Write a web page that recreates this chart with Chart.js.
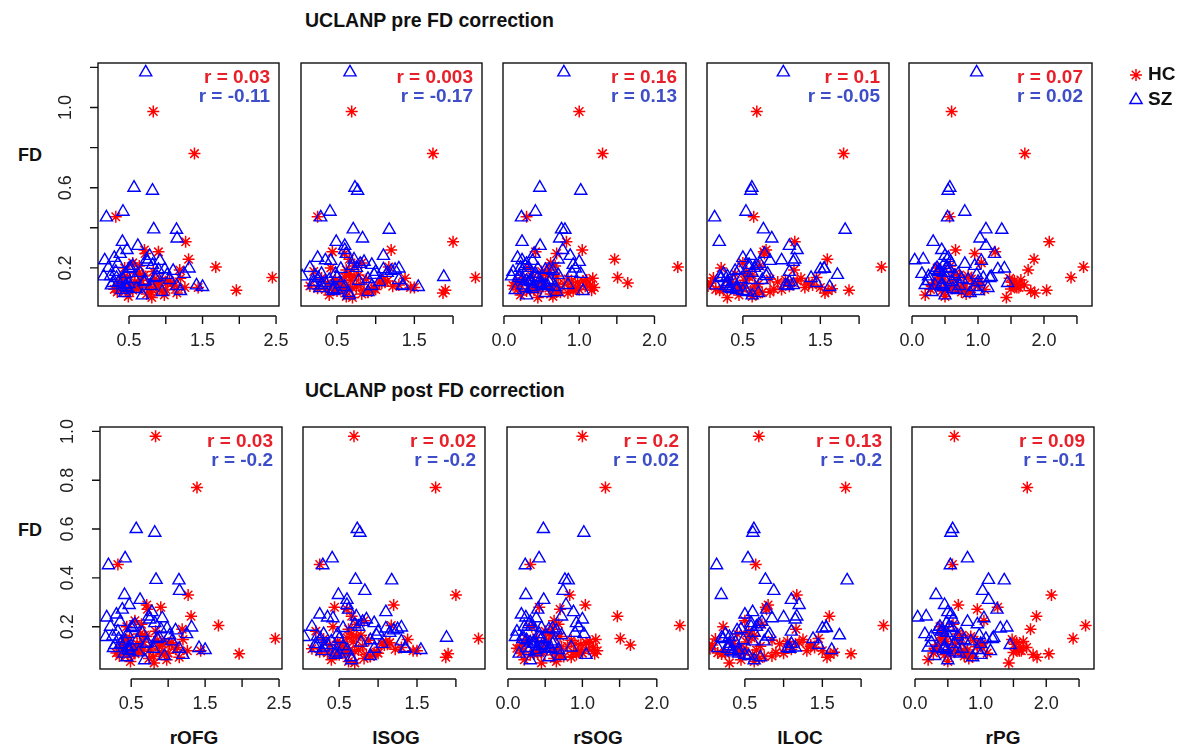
<!DOCTYPE html>
<html>
<head>
<meta charset="utf-8">
<script src="https://cdn.jsdelivr.net/npm/chart.js@4.4.1/dist/chart.umd.min.js"></script>
<style>
body { margin: 0; background: #fff; }
#wrap { position: relative; width: 1182px; height: 747px; overflow: hidden; }
#wrap canvas { position: absolute; }
.lbl { position: absolute; font-family: "Liberation Sans", Arial, sans-serif; font-weight: bold; color: #111; white-space: nowrap; line-height: 1; }
.xl { transform: translateX(-50%); font-size: 19px; top: 728px; }
</style>
</head>
<body>
<div id="wrap">
  <div class="lbl" style="left:305px;top:11px;font-size:19.5px">UCLANP pre FD correction</div>
  <div class="lbl" style="left:305px;top:381px;font-size:19.5px">UCLANP post FD correction</div>
  <div class="lbl" style="left:18px;top:146px;font-size:18px">FD</div>
  <div class="lbl" style="left:18px;top:521px;font-size:18px">FD</div>
  <div class="lbl xl" style="left:194px">rOFG</div>
  <div class="lbl xl" style="left:396px">lSOG</div>
  <div class="lbl xl" style="left:598px">rSOG</div>
  <div class="lbl xl" style="left:800px">lLOC</div>
  <div class="lbl xl" style="left:1003px">rPG</div>
</div>
<script>
const regions = ['rOFG', 'lSOG', 'rSOG', 'lLOC', 'rPG'];

// framewise displacement per subject (same subjects in every panel)
const fdHC = [0.98, 0.77, 0.455, 0.33, 0.289, 0.28, 0.243, 0.205, 0.152, 0.089,
  0.19, 0.102, 0.102, 0.075, 0.052, 0.058, 0.08, 0.125, 0.272, 0.225,
  0.11, 0.15, 0.088, 0.13, 0.1, 0.16, 0.12, 0.095, 0.14, 0.085,
  0.125, 0.09, 0.17, 0.105, 0.145, 0.092, 0.135, 0.115, 0.098, 0.155,
  0.093, 0.14, 0.1, 0.165, 0.078, 0.13, 0.108, 0.148, 0.086, 0.118,
  0.2, 0.104, 0.138, 0.07, 0.128, 0.112, 0.21, 0.096, 0.182, 0.065];
const fdSZ = [1.175, 0.6, 0.585, 0.48, 0.452, 0.392, 0.39, 0.347, 0.33, 0.289,
  0.238, 0.193, 0.197, 0.113, 0.105, 0.158, 0.113, 0.105, 0.063, 0.242,
  0.17, 0.25, 0.12, 0.2, 0.095, 0.22, 0.14, 0.11, 0.19, 0.16,
  0.21, 0.13, 0.185, 0.08, 0.15, 0.175, 0.1, 0.27, 0.125, 0.23,
  0.09, 0.2, 0.155, 0.14, 0.31, 0.18, 0.085, 0.165, 0.26, 0.115,
  0.13, 0.145, 0.075, 0.235, 0.11, 0.195, 0.135, 0.215, 0.15, 0.17];
// post correction: the SZ outlier is gone, the rest unchanged
const fdHCpost = fdHC;
const fdSZpost = [null, 0.6, 0.585, 0.48, 0.452, 0.392, 0.39, 0.347, 0.33, 0.289,
  0.238, 0.193, 0.197, 0.113, 0.105, 0.158, 0.113, 0.105, 0.063, 0.242,
  0.17, 0.25, 0.12, 0.2, 0.095, 0.22, 0.14, 0.11, 0.19, 0.16,
  0.21, 0.13, 0.185, 0.08, 0.15, 0.175, 0.1, 0.27, 0.125, 0.23,
  0.09, 0.2, 0.155, 0.14, 0.31, 0.18, 0.085, 0.165, 0.26, 0.115,
  0.13, 0.145, 0.075, 0.235, 0.11, 0.195, 0.135, 0.215, 0.15, 0.17];

const rOFG_HC = [0.83, 1.39, 0.32, 1.27, 0.71, 0.90, 1.31, 1.68, 2.45, 1.96,
  1.19, 1.26, 1.44, 1.15, 0.81, 0.49, 0.34, 0.62, 0.72, 0.55,
  0.35, 0.42, 0.5, 0.58, 0.65, 0.7, 0.78, 0.88, 0.95, 0.45,
  0.38, 0.55, 0.62, 0.75, 0.85, 1.0, 1.05, 1.12, 0.6, 0.48,
  0.3, 0.4, 0.52, 0.68, 0.8, 0.92, 1.1, 1.2, 0.95, 0.88,
  0.44, 0.58, 0.66, 0.74, 1.02, 0.57, 0.64, 0.5, 0.83, 0.98];
const lSOG_HC = [0.69, 1.74, 0.25, 2.0, 1.2, 0.44, 0.66, 1.17, 2.29, 1.9,
  0.62, 1.45, 1.5, 1.87, 0.7, 0.62, 0.9, 1.08, 0.6, 0.82,
  0.15, 0.3, 0.45, 0.55, 0.62, 0.72, 0.8, 0.95, 1.1, 0.5,
  0.38, 0.58, 0.66, 0.75, 0.88, 1.0, 1.15, 1.3, 0.25, 0.6,
  0.35, 0.48, 0.7, 0.78, 0.9, 1.05, 1.22, 1.38, 0.85, 0.52,
  0.42, 0.63, 0.68, 0.82, 1.12, 0.55, 0.72, 0.98, 0.2, 0.4];
const rSOG_HC = [1.0, 1.31, 0.3, 0.83, 1.04, 0.42, 1.47, 2.31, 1.51, 1.165,
  0.6, 1.2, 0.95, 0.85, 0.45, 0.65, 0.7, 1.645, 0.7, 0.62,
  0.15, 0.25, 0.35, 0.5, 0.6, 0.7, 0.8, 0.95, 1.1, 0.3,
  0.2, 0.4, 0.55, 0.65, 0.85, 1.0, 1.05, 1.15, 0.45, 0.38,
  0.18, 0.28, 0.48, 0.58, 0.75, 0.9, 1.08, 1.18, 0.92, 0.72,
  0.32, 0.42, 0.52, 0.62, 0.98, 0.12, 0.68, 0.88, 0.5, 0.22];
const lLOC_HC = [0.68, 1.8, 0.64, 1.17, 0.8, 0.77, 1.59, 2.29, 1.45, 1.87,
  1.16, 1.3, 1.5, 1.56, 0.3, 0.62, 0.85, 1.35, 0.78, 0.5,
  0.05, 0.12, 0.2, 0.35, 0.45, 0.55, 0.7, 0.9, 1.05, 0.6,
  0.08, 0.25, 0.4, 0.65, 0.85, 1.0, 1.2, 1.4, 0.5, 0.58,
  0.15, 0.3, 0.48, 0.62, 0.75, 0.95, 1.1, 1.25, 1.6, 1.35,
  0.22, 0.38, 0.52, 0.68, 1.08, 0.42, 0.72, 1.65, 0.55, 0.45];
const rPG_HC = [0.6, 1.71, 0.57, 2.08, 0.66, 1.26, 1.85, 2.6, 2.41, 2.04,
  1.76, 1.59, 1.62, 1.86, 1.43, 0.5, 0.75, 1.0, 0.95, 1.05,
  0.3, 0.4, 0.5, 0.6, 0.7, 0.85, 1.0, 1.5, 1.65, 0.45,
  0.35, 0.55, 0.65, 0.8, 0.9, 1.1, 1.55, 1.7, 0.75, 0.42,
  0.28, 0.48, 0.62, 0.72, 0.88, 1.02, 1.58, 1.48, 1.8, 0.95,
  0.38, 0.52, 0.68, 0.82, 1.52, 0.3, 0.58, 0.78, 0.45, 0.2];

const rOFG_SZ = [0.727, 0.568, 0.819, 0.418, 0.192, 0.836, 1.146, 1.154, 0.41, 0.473,
  0.169, 0.986, 1.317, 1.418, 1.5, 0.155, 0.26, 0.455, 0.683, 0.737,
  0.45, 0.3, 0.5, 0.22, 0.6, 0.35, 0.42, 0.8, 0.9, 0.25,
  0.55, 0.7, 1.1, 0.95, 0.85, 0.65, 0.48, 0.38, 0.28, 0.75,
  0.4, 0.52, 0.88, 1.05, 0.62, 0.32, 1.2, 1.02, 0.78, 0.46,
  0.36, 0.58, 0.44, 0.92, 1.15, 0.5, 0.72, 0.82, 0.33, 1.25];
const lSOG_SZ = [0.668, 0.732, 0.767, 0.41, 0.29, 0.71, 1.175, 0.83, 0.49, 0.6,
  0.35, 1.1, 1.3, 1.35, 1.55, 0.05, 0.2, 0.6, 0.66, 0.72,
  0.3, 0.25, 0.55, 0.15, 0.45, 0.8, 0.4, 0.95, 1.25, 0.22,
  0.7, 1.05, 1.2, 0.9, 0.5, 1.15, 0.28, 0.62, 0.35, 0.85,
  0.5, 0.75, 1.88, 1.3, 0.6, 1.0, 0.45, 0.98, 1.1, 0.3,
  0.2, 0.9, 0.65, 0.42, 1.35, 0.55, 0.78, 0.95, 0.26, 0.48];
const rSOG_SZ = [0.796, 0.476, 1.02, 0.418, 0.232, 0.765, 0.81, 0.74, 0.24, 0.78,
  0.24, 0.6, 0.95, 0.25, 0.38, 0.1, 0.55, 0.68, 0.3, 0.72,
  0.42, 0.18, 0.45, 0.22, 0.38, 0.3, 0.35, 0.5, 0.55, 0.2,
  0.28, 0.6, 0.65, 0.7, 0.45, 0.9, 0.28, 0.4, 0.5, 1.0,
  0.15, 0.32, 0.42, 0.62, 0.48, 0.12, 1.05, 0.72, 0.88, 0.85,
  0.35, 0.25, 0.55, 0.38, 0.58, 0.45, 0.3, 0.92, 0.2, 1.02];
const lLOC_SZ = [1.022, 0.616, 0.603, 0.54, 0.135, 0.765, 1.82, 0.873, 0.195, 1.2,
  1.0, 1.5, 1.55, 1.05, 1.62, 0.3, 0.15, 0.42, 0.62, 1.17,
  0.25, 0.5, 0.3, 0.58, 0.35, 0.72, 0.6, 0.28, 0.45, 0.8,
  0.68, 1.1, 0.4, 0.55, 1.38, 0.62, 0.32, 0.78, 1.45, 1.15,
  0.42, 0.65, 0.2, 0.75, 1.1, 1.1, 0.5, 1.72, 0.6, 1.15,
  0.3, 0.48, 0.7, 0.85, 1.08, 1.55, 0.38, 0.58, 0.22, 0.82];
const rPG_SZ = [0.979, 0.573, 0.547, 0.8, 0.538, 1.12, 1.36, 1.03, 0.32, 0.45,
  0.04, 1.3, 1.4, 0.45, 0.95, 0.25, 0.35, 0.48, 0.5, 0.17,
  0.15, 0.55, 0.45, 0.38, 0.62, 0.8, 0.5, 0.72, 0.35, 0.65,
  0.95, 1.0, 0.42, 0.3, 1.08, 0.48, 1.15, 1.25, 1.45, 0.58,
  0.68, 0.52, 1.2, 0.85, 1.12, 0.4, 1.0, 0.98, 0.5, 0.2,
  0.6, 0.75, 0.88, 1.05, 0.44, 0.56, 0.25, 0.48, 1.18, 0.7];

// correlation labels
const rPre_HC = ['0.03', '0.003', '0.16', '0.1', '0.07'];
const rPre_SZ = ['-0.11', '-0.17', '0.13', '-0.05', '0.02'];
const rPost_HC = ['0.03', '0.02', '0.2', '0.13', '0.09'];
const rPost_SZ = ['-0.2', '-0.2', '0.02', '-0.2', '-0.1'];

// tick labels
const xTickLabels = [['0.5', '1.5', '2.5'], ['0.5', '1.5'], ['0.0', '1.0', '2.0'], ['0.5', '1.5'], ['0.0', '1.0', '2.0']];
const yTickLabelsPre = ['0.2', '0.6', '1.0'];
const yTickLabelsPost = ['0.2', '0.4', '0.6', '0.8', '1.0'];

const xHC = [rOFG_HC, lSOG_HC, rSOG_HC, lLOC_HC, rPG_HC];
const xSZ = [rOFG_SZ, lSOG_SZ, rSOG_SZ, lLOC_SZ, rPG_SZ];

// axis ranges and box placement
const xMin = [0.078, 0.035, -0.013, 0.037, -0.046];
const xMax = [2.54, 2.374, 2.419, 2.386, 2.728];
const yRange = [[0.01, 1.222], [0.027, 1.018]];
const boxLeft = [[98, 301, 503, 707, 909], [100, 303, 507, 709, 912]];
const boxRight = [[279, 482, 686, 889, 1092], [282, 485, 688, 891, 1094]];
const boxTop = [63, 427];
const boxBottom = [306, 669];

const FONT = '"Liberation Sans", Arial, sans-serif';
const RED_TXT = '#e8202a';
const BLUE_TXT = '#3d4ec8';

function stepValues(scale, step) {
  // tick positions of an R style axis inside the scale range
  const out = [];
  for (let v = Math.ceil(scale.min / step - 1e-9) * step; v <= scale.max + 1e-9; v += step) out.push(+v.toFixed(2));
  return out;
}

function noPad(s) {
  s.paddingLeft = 0;
  s.paddingRight = 0;
  s.paddingTop = 0;
  s.paddingBottom = 0;
}

const rStyle = {
  id: 'rStyle',
  afterDraw(chart, args, opts) {
    const {ctx, chartArea: a, scales: {x, y}} = chart;
    ctx.save();
    ctx.strokeStyle = '#111';
    ctx.lineWidth = 1.4;
    ctx.strokeRect(a.left, a.top, a.right - a.left, a.bottom - a.top);

    // x axis detached below the box
    const xt = stepValues(x, 0.5);
    const ay = a.bottom + 10;
    ctx.beginPath();
    ctx.moveTo(x.getPixelForValue(xt[0]), ay);
    ctx.lineTo(x.getPixelForValue(xt[xt.length - 1]), ay);
    xt.forEach(v => {
      const px = x.getPixelForValue(v);
      ctx.moveTo(px, ay);
      ctx.lineTo(px, ay + 8);
    });
    if (opts.yAxis) {
      stepValues(y, 0.2).forEach(v => {
        const py = y.getPixelForValue(v);
        ctx.moveTo(a.left, py);
        ctx.lineTo(a.left - 8, py);
      });
    }
    ctx.stroke();

    ctx.font = 'bold 19px ' + FONT;
    ctx.textAlign = 'right';
    ctx.textBaseline = 'middle';
    ctx.fillStyle = RED_TXT;
    ctx.fillText('r = ' + opts.rHC, a.right - 9, a.top + 15);
    ctx.fillStyle = BLUE_TXT;
    ctx.fillText('r = ' + opts.rSZ, a.right - 9, a.top + 34);

    if (opts.legend) {
      const lx = a.right + 44, ly1 = a.top + 12, ly2 = a.top + 37;
      ctx.lineWidth = 1.5;
      ctx.strokeStyle = 'red';
      ctx.beginPath();
      for (let k = 0; k < 4; k++) {
        const ang = k * Math.PI / 4;
        ctx.moveTo(lx - Math.cos(ang) * 6, ly1 - Math.sin(ang) * 6);
        ctx.lineTo(lx + Math.cos(ang) * 6, ly1 + Math.sin(ang) * 6);
      }
      ctx.stroke();
      ctx.strokeStyle = 'blue';
      ctx.beginPath();
      ctx.moveTo(lx, ly2 - 7);
      ctx.lineTo(lx + 6.06, ly2 + 3.5);
      ctx.lineTo(lx - 6.06, ly2 + 3.5);
      ctx.closePath();
      ctx.stroke();
      ctx.fillStyle = '#111';
      ctx.textAlign = 'left';
      ctx.fillText('HC', lx + 12, ly1);
      ctx.fillText('SZ', lx + 12, ly2);
    }
    ctx.restore();
  }
};

function makePanel(row, col) {
  const wrap = document.getElementById('wrap');
  const L = boxLeft[row][col], R = boxRight[row][col];
  const T = boxTop[row], B = boxBottom[row];
  const padR = (row === 0 && col === 4) ? 100 : 10;
  const cv = document.createElement('canvas');
  cv.width = R - L + 50 + padR;
  cv.height = B - T + 55;
  cv.style.left = (L - 50) + 'px';
  cv.style.top = (T - 10) + 'px';
  wrap.appendChild(cv);

  const fdH = row === 0 ? fdHC : fdHCpost;
  const fdS = row === 0 ? fdSZ : fdSZpost;
  const yLabels = row === 0 ? yTickLabelsPre : yTickLabelsPost;

  // SZ listed first so its triangles are painted over the HC stars
  new Chart(cv, {
    type: 'scatter',
    data: {
      datasets: [{
        label: 'SZ',
        data: xSZ[col].map((v, i) => ({x: v, y: fdS[i]})),
        pointStyle: 'triangle',
        pointRadius: 7,
        borderColor: 'blue',
        backgroundColor: 'rgba(0,0,0,0)',
        borderWidth: 1.4
      }, {
        label: 'HC',
        data: xHC[col].map((v, i) => ({x: v, y: fdH[i]})),
        pointStyle: 'star',
        pointRadius: 6,
        borderColor: 'red',
        backgroundColor: 'red',
        borderWidth: 1.5
      }]
    },
    options: {
      responsive: false,
      animation: false,
      devicePixelRatio: 1,
      events: [],
      layout: {padding: {left: 0, top: 10, right: padR, bottom: 0}},
      plugins: {
        legend: {display: false},
        tooltip: {enabled: false},
        rStyle: {
          rHC: row === 0 ? rPre_HC[col] : rPost_HC[col],
          rSZ: row === 0 ? rPre_SZ[col] : rPost_SZ[col],
          yAxis: col === 0,
          legend: row === 0 && col === 4
        }
      },
      scales: {
        x: {
          type: 'linear',
          min: xMin[col],
          max: xMax[col],
          grid: {display: false, drawTicks: false},
          border: {display: false},
          ticks: {
            stepSize: 0.5,
            includeBounds: false,
            autoSkip: false,
            maxRotation: 0,
            padding: 24,
            color: '#222',
            font: {family: FONT, size: 18},
            callback: v => xTickLabels[col].includes(v.toFixed(1)) ? v.toFixed(1) : ''
          },
          afterFit: s => { s.height = 45; noPad(s); }
        },
        y: {
          type: 'linear',
          min: yRange[row][0],
          max: yRange[row][1],
          grid: {display: false, drawTicks: false},
          border: {display: false},
          ticks: {
            display: col === 0,
            stepSize: 0.2,
            includeBounds: false,
            autoSkip: false,
            minRotation: 90,
            maxRotation: 90,
            crossAlign: 'center',
            padding: 19,
            color: '#222',
            font: {family: FONT, size: 18},
            callback: v => yLabels.includes(v.toFixed(1)) ? v.toFixed(1) : ''
          },
          afterFit: s => { s.width = 50; noPad(s); }
        }
      }
    },
    plugins: [rStyle]
  });
}

for (let row = 0; row < 2; row++) {
  for (let col = 0; col < regions.length; col++) makePanel(row, col);
}
</script>
</body>
</html>
